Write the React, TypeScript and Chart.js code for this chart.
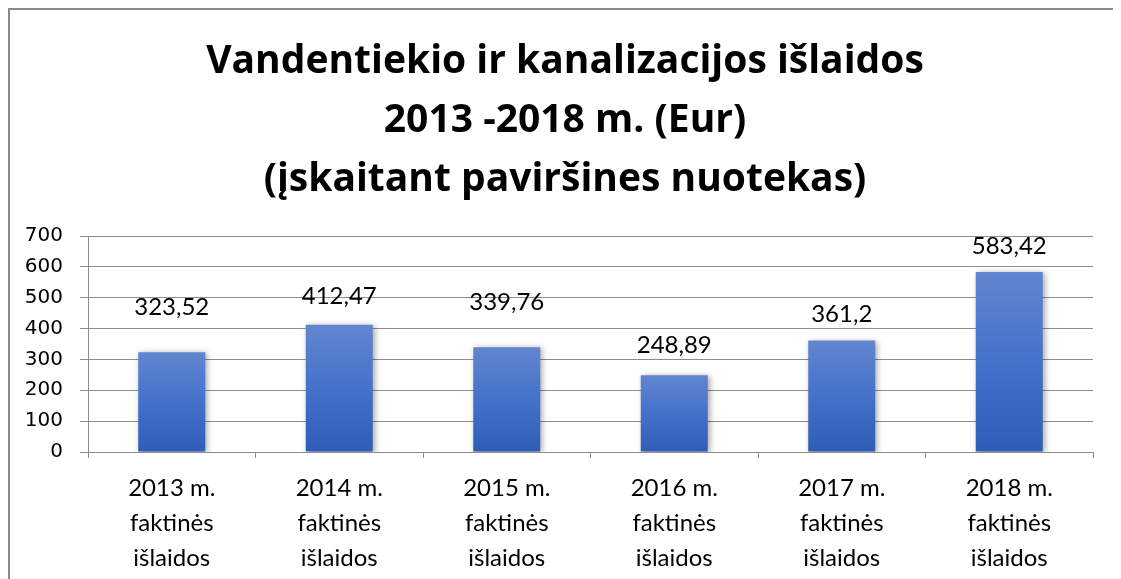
import React, { useEffect, useRef } from "react";
import { Chart, registerables } from "chart.js";

Chart.register(...registerables);

const titleLines = [
  "Vandentiekio ir kanalizacijos išlaidos",
  "2013 -2018 m. (Eur)",
  "(įskaitant paviršines nuotekas)",
];
const categories = [
  ["2013 m.", "faktinės", "išlaidos"],
  ["2014 m.", "faktinės", "išlaidos"],
  ["2015 m.", "faktinės", "išlaidos"],
  ["2016 m.", "faktinės", "išlaidos"],
  ["2017 m.", "faktinės", "išlaidos"],
  ["2018 m.", "faktinės", "išlaidos"],
];
const values = [323.52, 412.47, 339.76, 248.89, 361.2, 583.42];
const yTicks = [0, 100, 200, 300, 400, 500, 600, 700];

// pixel lift of each value label above its bar (label positions in the original)
const labelLift = [45, 28, 45, 30, 26, 26];

const W = 1113;
const H = 571;

const fmt = (v: number) => String(v).replace(".", ",");

const framePlugin = {
  id: "frameAndTitle",
  beforeDraw(chart: any) {
    const ctx = chart.ctx;
    ctx.save();
    ctx.fillStyle = "#fff";
    ctx.fillRect(0, 0, chart.width, chart.height);
    ctx.restore();
  },
  afterDraw(chart: any) {
    const ctx = chart.ctx;
    ctx.save();
    ctx.fillStyle = "#8a8a8a";
    ctx.fillRect(0, 0, 2, chart.height);
    ctx.fillRect(0, 0, chart.width, 2);
    ctx.fillStyle = "#000";
    ctx.font = "bold 39px 'Open Sans'";
    ctx.textAlign = "center";
    ctx.textBaseline = "middle";
    titleLines.forEach((t, i) => {
      ctx.fillText(t, 557, 54 + i * 59);
    });
    ctx.restore();
  },
};

const shadowPlugin = {
  id: "barShadow",
  beforeDatasetsDraw(chart: any) {
    const ctx = chart.ctx;
    ctx.save();
    ctx.shadowColor = "rgba(0,0,0,0.35)";
    ctx.shadowBlur = 6;
    ctx.shadowOffsetX = 2;
    ctx.shadowOffsetY = 1;
  },
  afterDatasetsDraw(chart: any) {
    chart.ctx.restore();
  },
};

const labelPlugin = {
  id: "valueLabels",
  afterDatasetsDraw(chart: any) {
    const ctx = chart.ctx;
    const meta = chart.getDatasetMeta(0);
    ctx.save();
    ctx.font = "24px Lato";
    ctx.fillStyle = "#000";
    ctx.textAlign = "center";
    ctx.textBaseline = "middle";
    meta.data.forEach((bar: any, i: number) => {
      ctx.fillText(fmt(values[i]), bar.x, bar.y - labelLift[i]);
    });
    ctx.restore();
  },
};

export default function App() {
  const ref = useRef<HTMLCanvasElement | null>(null);

  useEffect(() => {
    if (!ref.current) return;
    const chart = new Chart(ref.current, {
      type: "bar",
      data: {
        labels: categories,
        datasets: [
          {
            data: values,
            backgroundColor: (c: any) => {
              const ch = c.chart;
              const ys = ch.scales?.y;
              if (!ys || c.raw == null) return "#4472C4";
              const top = ys.getPixelForValue(c.raw);
              const bottom = ys.getPixelForValue(0);
              if (!isFinite(top) || !isFinite(bottom) || top === bottom) return "#4472C4";
              const g = ch.ctx.createLinearGradient(0, top, 0, bottom);
              g.addColorStop(0, "#6286CF");
              g.addColorStop(0.5, "#4471CA");
              g.addColorStop(1, "#2E5DB7");
              return g;
            },
            borderWidth: 0,
            categoryPercentage: 1,
            barPercentage: 0.4,
          },
        ],
      },
      options: {
        responsive: false,
        animation: false,
        devicePixelRatio: 1,
        layout: { padding: { left: 0, right: 28, top: 228, bottom: 0 } },
        plugins: {
          legend: { display: false },
          tooltip: { enabled: false },
          title: { display: false },
        },
        scales: {
          x: {
            afterFit: (s: any) => {
              s.height = 127;
            },
            grid: {
              display: true,
              drawOnChartArea: false,
              drawTicks: true,
              tickLength: 6,
              color: "#8c8c8c",
              offset: true,
            },
            border: { display: true, color: "#8c8c8c", width: 1 },
            ticks: {
              color: "#000",
              padding: 12.5,
              maxRotation: 0,
              autoSkip: false,
              font: { family: "Lato", size: 24, lineHeight: 1.46 },
            },
          },
          y: {
            min: 0,
            max: 700,
            afterFit: (s: any) => {
              s.width = 80;
            },
            afterBuildTicks: (s: any) => {
              s.ticks = yTicks.map((v) => ({ value: v }));
            },
            grid: { color: "#8c8c8c", tickLength: 8, lineWidth: 1 },
            border: { display: true, color: "#8c8c8c", width: 1 },
            ticks: {
              color: "#000",
              padding: 17,
              font: { family: "DejaVu Sans", size: 20 },
            },
          },
        },
      },
      plugins: [framePlugin, shadowPlugin, labelPlugin],
    });
    return () => chart.destroy();
  }, []);

  return (
    <div style={{ width: W, height: H, background: "#fff" }}>
      <canvas ref={ref} width={W} height={H} style={{ display: "block" }} />
    </div>
  );
}
